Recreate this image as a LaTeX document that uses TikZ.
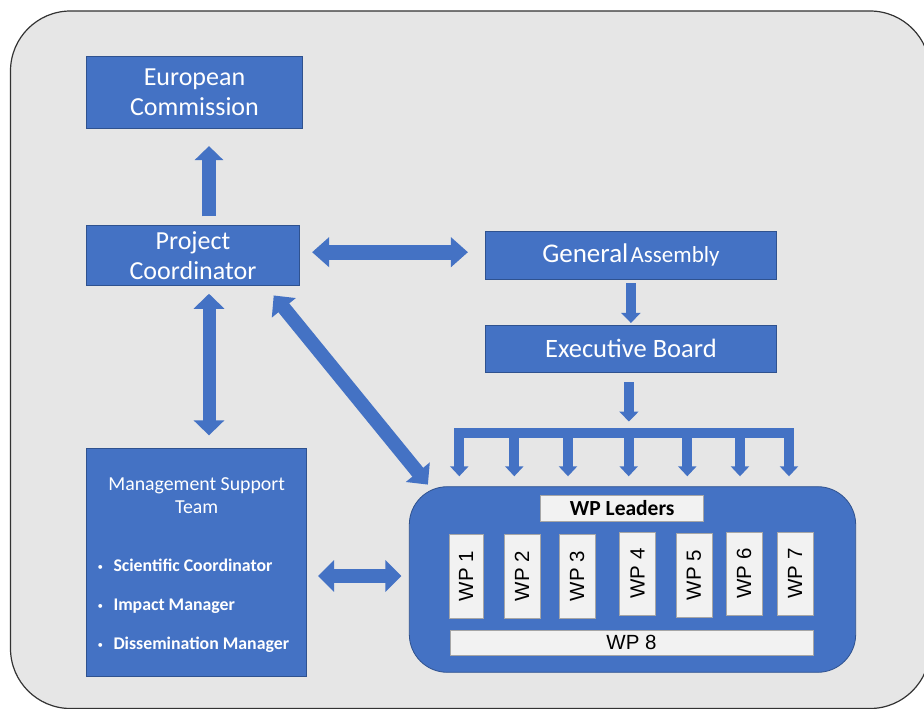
\documentclass[tikz,border=0pt]{standalone}
\usepackage{fontspec}
\setmainfont{Carlito}
\newfontfamily\wpfont{Liberation Sans}
\definecolor{OfficeBlue}{HTML}{4472C4}
\definecolor{EdgeBlue}{HTML}{2F528F}
\definecolor{PanelGray}{HTML}{E6E6E6}
\definecolor{PaperWhite}{HTML}{F2F2F2}
\usetikzlibrary{positioning, arrows.meta, calc}

\begin{document}
\begin{tikzpicture}[
  x=1pt, y=-1pt,
  unit/.style={
    draw=EdgeBlue, line width=0.8pt, fill=OfficeBlue,
    text=white, align=center, inner sep=0pt
  },
  paper/.style={
    draw=gray!70, line width=0.6pt, fill=PaperWhite,
    text=black, inner sep=0pt
  },
  wpbox/.style={paper, rotate=90, minimum width=84pt, minimum height=36pt,
    font=\wpfont\fontsize{20.5}{22}\selectfont},
  flow/.style n args={3}{
    draw=OfficeBlue, line width=#1,
    arrows={-Triangle[length=#2, width=#3]}
  },
  both/.style n args={3}{
    draw=OfficeBlue, line width=#1,
    arrows={Triangle[length=#2, width=#3]-Triangle[length=#2, width=#3]}
  },
  item/.style={anchor=base west, text=white, inner sep=0pt,
    font=\fontsize{17.8}{20}\selectfont\bfseries}
]
  \newcommand\dotmark{\makebox[16pt][l]{\normalfont\fontsize{11}{11}\selectfont\raisebox{1pt}{\textbullet}}}
  \useasboundingbox (0,0) rectangle (924,709);
  \draw[fill=PanelGray, draw=black!80, line width=1.2pt, rounded corners=60pt]
    (10.5,11) rectangle (930,708.5);

  \node[unit, minimum width=215.6pt, minimum height=72pt,
        font=\fontsize{26}{30}\selectfont] (ec) at (194.5,92.7)
    {European\\Commission};
  \node[unit, minimum width=212.6pt, minimum height=59.7pt,
        font=\fontsize{26}{30}\selectfont] (pc) at (193,255.2)
    {Project\\Coordinator};
  \node[unit, minimum width=290.3pt, minimum height=48pt] (ga) at (630.9,255.3)
    {{\fontsize{27}{30}\selectfont General} {\fontsize{23}{30}\selectfont Assembly}};
  \node[unit, minimum width=290.3pt, minimum height=47.3pt,
        font=\fontsize{26.5}{30}\selectfont] (eb) at (630.9,348.7)
    {Executive Board};
  \node[unit, minimum width=220pt, minimum height=227.3pt] (mst) at (196.7,562.4) {};
  \node[text=white, align=center, anchor=north, inner sep=0pt,
        font=\fontsize{19.8}{23}\selectfont] (msttitle) at (mst.north |- 0,477.4)
    {Management Support\\Team};
  \node[item] (sci) at ([xshift=11pt]mst.west |- 0,571.7)
    {\dotmark Scientific Coordinator};
  \node[item] (imp) at ([xshift=11pt]mst.west |- 0,610.7)
    {\dotmark Impact Manager};
  \node[item] (dis) at ([xshift=11pt]mst.west |- 0,649.3)
    {\dotmark Dissemination Manager};

  % work packages
  \node[unit, rounded corners=38pt, minimum width=446.4pt,
        minimum height=185.6pt] (wps) at (632.5,579.5) {};
  \node[paper, minimum width=163pt, minimum height=25.6pt,
        font=\fontsize{21.5}{24}\selectfont\bfseries] (lead) at (622.2,508.5)
    {WP Leaders};
  \node[wpbox, minimum height=34pt] (wp1) at (466,576) {WP 1};
  \node[wpbox] (wp2) at (522,576) {WP 2};
  \node[wpbox] (wp3) at (577,576) {WP 3};
  \node[wpbox, minimum width=83pt] (wp4) at (637.5,573.5) {WP 4};
  \node[wpbox] (wp5) at (694,575) {WP 5};
  \node[wpbox, minimum width=83pt] (wp6) at (744,573.5) {WP 6};
  \node[wpbox, minimum width=83pt] (wp7) at (795,573.5) {WP 7};
  \node[paper, minimum width=363pt, minimum height=25pt,
        font=\wpfont\fontsize{20.5}{22}\selectfont] (wp8) at (631.5,642.5) {WP 8};

  % distribution bar
  \node[fill=OfficeBlue, minimum width=340.3pt, minimum height=10pt,
        inner sep=0pt] (bar) at (624.2,433.3) {};

  \draw[flow={14pt}{14pt}{28pt}, shorten <=8.6pt, shorten >=17pt]
    ([xshift=16pt]pc.north) -- ([xshift=16pt]pc.north |- ec.south);
  \draw[both={15pt}{17pt}{29pt}, shorten <=12.4pt, shorten >=17.4pt]
    ([yshift=3pt]pc.east) -- ([yshift=3pt]pc.east -| ga.west);
  \draw[flow={10pt}{10pt}{19pt}, shorten <=3.4pt, shorten >=1.7pt]
    (ga.south) -- (eb.north);
  \draw[flow={10pt}{10pt}{19pt}, shorten <=9.4pt, shorten >=6.6pt]
    ([xshift=-2pt]eb.south) -- ([xshift=-2pt]eb.south |- bar.north);
  \foreach \x in {459.3,514.3,568,628.7,687.3,740,789}
    \draw[flow={10pt}{10pt}{18pt}, shorten >=10pt]
      (\x,0 |- bar.center) -- (\x,0 |- wps.north);
  \draw[both={13pt}{15pt}{30pt}, shorten <=8.3pt, shorten >=13pt]
    ([xshift=16pt]pc.south) -- ([xshift=16pt]pc.south |- mst.north);
  \draw[both={14pt}{16pt}{30pt}]
    ([xshift=-26pt, yshift=-10pt]pc.south east) -- ([xshift=19pt, yshift=1.7pt]wps.north west);
  \draw[both={14pt}{16pt}{31pt}, shorten <=11pt, shorten >=7.6pt]
    ([yshift=3.5pt]mst.east |- wps.west) -- ([yshift=3.5pt]wps.west);
\end{tikzpicture}
\end{document}
